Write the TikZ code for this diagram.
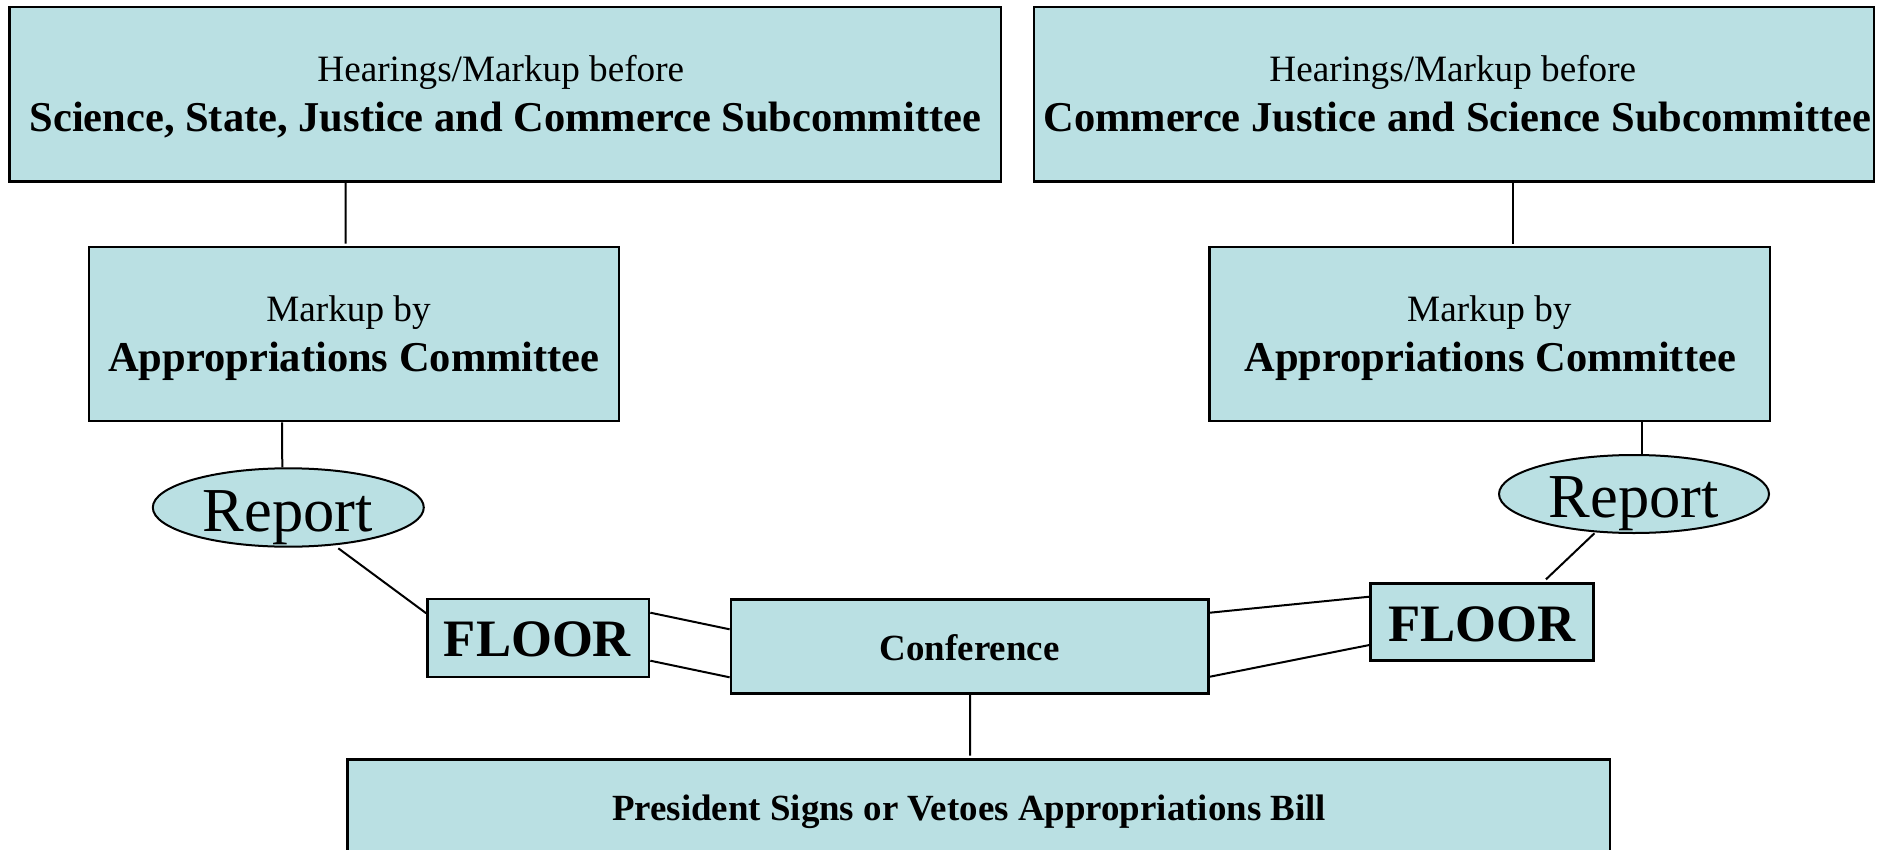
\documentclass[tikz,border=0pt]{standalone}
\usepackage{fontspec}
\setmainfont{Liberation Serif}
\usetikzlibrary{calc,shapes.geometric}
\definecolor{boxfill}{RGB}{186,224,227}
\begin{document}
\begin{tikzpicture}[x=0.5pt,y=-0.5pt,
  box/.style={draw=black, line width=1.3pt, fill=boxfill, rectangle, inner sep=0pt},
  oval/.style={draw=black, line width=1pt, fill=boxfill, ellipse, inner sep=0pt},
  link/.style={draw=black, line width=1pt},
  txt/.style={anchor=base, inner sep=0pt},
  reg/.style={txt, font=\fontsize{18.6}{22}\selectfont},
  bld/.style={txt, font=\fontsize{21.25}{25}\selectfont\bfseries},
  small bold/.style={txt, font=\fontsize{18.45}{22}\selectfont\bfseries},
  report text/.style={txt, font=\fontsize{31.25}{36}\selectfont},
  floor text/.style={txt, font=\fontsize{26.3}{30}\selectfont\bfseries}
]
\clip (0,0) rectangle (1877,850);

% subcommittee hearings
\node[box, minimum width=495.7pt, minimum height=87.25pt] (sub1) at (505.3,94.2) {};
\node[box, minimum width=420pt, minimum height=87.25pt] (sub2) at (1454,94.2) {};
\node[reg] (sub1a) at (500.8,81.7) {Hearings/Markup before};
\node[bld] (sub1b) at (505.4,131.7) {Science, State, Justice and Commerce Subcommittee};
\node[reg] (sub2a) at (1452.8,81.7) {Hearings/Markup before};
\node[bld] (sub2b) at (1457.2,131.7) {Commerce Justice and Science Subcommittee};

% full committee markup
\node[box, minimum width=265pt, minimum height=87pt] (mark1) at (354,334) {};
\node[box, minimum width=280.15pt, minimum height=87pt] (mark2) at (1489.9,334) {};
\node[reg] (mark1a) at (348.5,321.7) {Markup by};
\node[bld] (mark1b) at (354,371.7) {Appropriations Committee};
\node[reg] (mark2a) at (1489.3,321.7) {Markup by};
\node[bld] (mark2b) at (1490.2,371.7) {Appropriations Committee};

% reports
\node[oval, minimum width=135.5pt, minimum height=39.2pt] (rep1) at (288.3,507.5) {};
\node[oval, minimum width=135pt, minimum height=39pt] (rep2) at (1634,494) {};
\node[report text] (rep1t) at (288,531.7) {Report};
\node[report text] (rep2t) at (1634,517.3) {Report};

% floor action
\node[box, minimum width=110.75pt, minimum height=39pt] (floor1) at (538.3,638) {};
\node[box, minimum width=111.3pt, minimum height=38.7pt] (floor2) at (1482,622) {};
\node[floor text] (floor1t) at (537.4,656.7) {FLOOR};
\node[floor text] (floor2t) at (1482,641.7) {FLOOR};

% conference and president
\node[box, minimum width=238.85pt, minimum height=47pt] (conf) at (969.75,646.3) {};
\node[small bold] (conft) at (969.6,660) {Conference};
\node[box, minimum width=631.35pt, minimum height=50.35pt] (pres) at (978.65,809.65) {};
\node[small bold] (prest) at (969,820) {President Signs or Vetoes Appropriations Bill};

% connectors
\draw[link] ($(sub1.south)+(-159.6,0)$) -- ($(mark1.north)+(-8.3,-2)$);
\draw[link] ($(sub2.south)+(59,0)$) -- ($(mark2.north)+(23.1,-2)$);
\draw[link] ($(mark1.south)+(-72,0)$) -- ($(rep1.north)+(-6,0)$);
\draw[link] ($(mark2.south)+(152.1,0)$) -- ($(rep2.north)+(8,0)$);
\draw[link] ($(rep1.center)+(50,40.8)$) -- ($(floor1.west)+(0,-24.7)$);
\draw[link] ($(floor1.east)+(0,-25.3)$) -- ($(conf.west)+(0,-17)$);
\draw[link] ($(floor1.east)+(0,22.7)$) -- ($(conf.west)+(0,31)$);
\draw[link] ($(conf.east)+(0,-33.6)$) -- ($(floor2.west)+(0,-25.3)$);
\draw[link] ($(conf.east)+(0,30.4)$) -- ($(floor2.west)+(0,23)$);
\draw[link] ($(rep2.center)+(-39.6,39.3)$) -- ($(floor2.north)+(63.9,-2.6)$);
\draw[link] ($(conf.south)+(0.35,0)$) -- ($(pres.north)+(-8.5,-2.5)$);
\end{tikzpicture}
\end{document}
